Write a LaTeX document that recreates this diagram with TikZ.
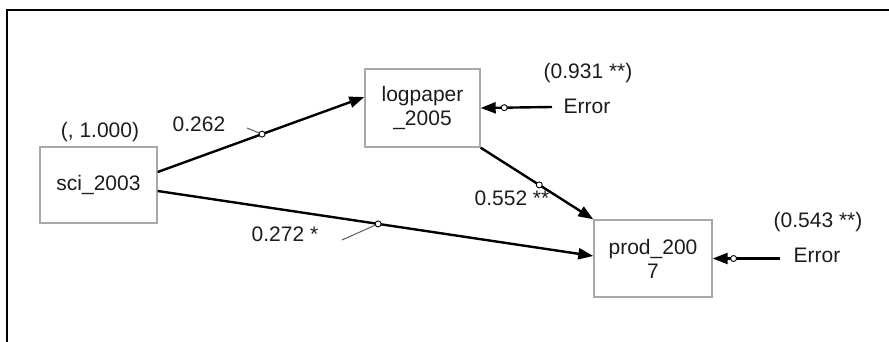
\documentclass[tikz,border=0pt]{standalone}
\usepackage{fontspec}
\setmainfont{Liberation Sans}
\usetikzlibrary{arrows.meta,calc}
\definecolor{boxgray}{RGB}{168,168,168}
\definecolor{ink}{RGB}{28,28,28}
\definecolor{tickgray}{RGB}{90,90,90}
\begin{document}
\begin{tikzpicture}[x=1pt,y=-1pt,
  font=\fontsize{21}{24}\selectfont,
  every node/.style={text=ink},
  var/.style={draw=boxgray,line width=1.4pt,align=center,inner sep=2pt},
  conn/.style={draw=black,line width=2.4pt,-{Triangle[length=15pt,width=11pt]}},
  dot/.style={circle,draw=black,fill=white,line width=0.9pt,inner sep=0pt,minimum size=6pt},
  tick/.style={draw=tickgray,line width=1pt}]
\useasboundingbox (0,0) rectangle (889,342);

% frame edges
\draw[line width=2.6pt] (889,10) -- (7,10) -- (7,342);

% variables
\node[var,minimum width=117pt,minimum height=76pt] (sci) at (98.5,185) {sci\_2003};
\node[var,minimum width=115pt,minimum height=78pt] (log) at (422.5,108) {logpaper\\\_2005};
\node[var,minimum width=118pt,minimum height=77pt] (prod) at (653,258.5) {prod\_200\\7};

% error sources
\node (e1) at (587,106) {Error};
\node (r1) at (588,73) {(0.931 **)};
\node (e2) at (817,255) {Error};
\node (r2) at (818,222) {(0.543 **)};
\node (r0) at (100,132) {(, 1.000)};
\coordinate (e1s) at (552,107);
\coordinate (e2s) at (780,258.5);

% path coefficients
\node (l1) at (199,124) {0.262};
\node (l2) at (285,234) {0.272 *};
\node (l3) at (512,198) {0.552 **};
\coordinate (t1) at (247,128);
\coordinate (t2) at (342,240);

% paths
\draw[conn] ([yshift=13pt]sci.east) -- node[pos=0.505,dot] (d1) {} ([yshift=11pt]log.west);
\draw[conn] ([yshift=-6pt]sci.east) -- node[pos=0.506,dot] (d2) {} ([yshift=2.5pt]prod.west);
\draw[conn] (log.south east) -- node[pos=0.52,dot] (d3) {} (prod.north west);
\draw[conn] (e1s) -- node[pos=0.67,dot] (d4) {} (log.east);
\draw[conn] (e2s) -- node[pos=0.69,dot] (d5) {} (prod.east);

% leader ticks
\draw[tick] (t1) -- (d1);
\draw[tick] (t2) -- (d2);
\end{tikzpicture}
\end{document}
